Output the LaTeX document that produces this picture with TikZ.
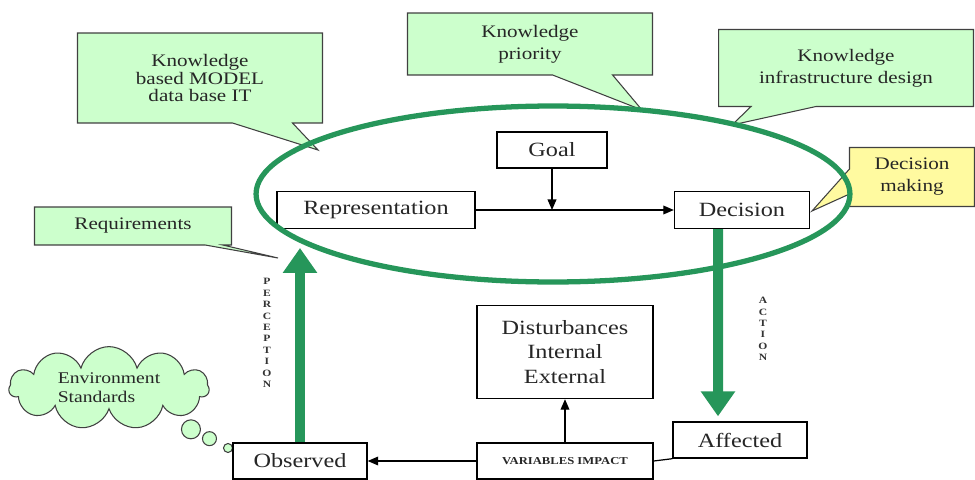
\documentclass[tikz,border=0pt]{standalone}
\usepackage{fontspec}
\setmainfont[FakeStretch=1.2]{Liberation Serif}
\usetikzlibrary{arrows.meta,shapes.callouts,shapes.symbols}
\definecolor{ringgreen}{RGB}{38,150,90}
\definecolor{notegreen}{RGB}{204,255,204}
\definecolor{noteyellow}{RGB}{255,250,160}

\begin{document}
\begin{tikzpicture}[x=0.02cm,y=-0.02cm,
 box/.style={draw=black,line width=0.8pt,fill=white,inner sep=0pt,text=black!85,font=\fontsize{11.5}{14}\selectfont},
 note/.style={rectangle callout,draw=black!75,line width=0.6pt,fill=notegreen,inner sep=0pt,align=center,text=black!85,font=\fontsize{10}{12.5}\selectfont},
 flow/.style={line width=0.7pt,-{Triangle[length=6pt,width=5pt]}},
 fat/.style={ringgreen,line width=0.2cm,-{Triangle[length=0.5cm,width=0.66cm]}},
 spell/.style={align=center,inner sep=0pt,text=black!80,font=\fontsize{5.5}{6.5}\selectfont\bfseries}]
 \useasboundingbox (0,0) rectangle (975,480);
 \node[note,minimum width=4.9cm,minimum height=1.8cm,callout absolute pointer={(318,150)},callout pointer width=1.2cm,font=\fontsize{10}{10}\selectfont] (model) at (200,78) {Knowledge\\based MODEL\\data base IT};
 \node[note,minimum width=4.9cm,minimum height=1.24cm,callout absolute pointer={(642,110)},callout pointer width=1.2cm] (priority) at (530,44) {Knowledge\\priority};
 \node[note,minimum width=5.1cm,minimum height=1.54cm,callout absolute pointer={(732,125)},callout pointer width=1.3cm] (infra) at (846,68) {Knowledge\\infrastructure design};
 \node[note,fill=noteyellow,minimum width=2.5cm,minimum height=1.18cm,callout absolute pointer={(812,211)},callout pointer width=0.5cm] (making) at (912,177) {Decision\\making};
 \node[note,minimum width=3.94cm,minimum height=0.76cm,callout absolute pointer={(278,258)},callout pointer width=0.35cm] (req) at (133,226) {Requirements};
 \node[cloud callout,draw=black!75,line width=0.6pt,fill=notegreen,cloud puffs=11,aspect=2.7,minimum width=4cm,minimum height=1.5cm,
  callout absolute pointer={(228,448)},callout pointer segments=3,callout pointer start size=0.9cm and 0.48cm,callout pointer end size=0.28cm and 0.18cm,
  align=left,inner sep=0pt,text=black!85,font=\fontsize{9.3}{11}\selectfont] (env) at (109,388) {Environment\\Standards};
 \node[box,minimum width=3.96cm,minimum height=0.74cm] (rep) at (376,210) {Representation};
 \node[box,minimum width=2.2cm,minimum height=0.72cm] (goal) at (552,150) {Goal};
 \node[box,minimum width=2.7cm,minimum height=0.74cm] (dec) at (742,210) {Decision};
 \node[box,minimum width=3.52cm,minimum height=1.86cm,align=center] (dist) at (565,352) {Disturbances\\Internal\\External};
 \node[box,minimum width=3.52cm,minimum height=0.72cm,font=\fontsize{6}{7}\selectfont\bfseries] (vi) at (565,461) {VARIABLES IMPACT};
 \node[box,minimum width=2.68cm,minimum height=0.72cm] (obs) at (300,461) {Observed};
 \node[box,minimum width=2.68cm,minimum height=0.72cm] (aff) at (740,440) {Affected};
 \node[spell] (perc) at (267,333) {P\\E\\R\\C\\E\\P\\T\\I\\O\\N};
 \node[spell] (act) at (763,329) {A\\C\\T\\I\\O\\N};
 \coordinate (seen) at (300,248);
 \draw[flow] (rep) -- (dec);
 \draw[flow] (goal) -- (goal |- rep.east);
 \draw[flow] (vi) -- (dist);
 \draw[flow] (vi) -- (obs);
 \draw[line width=0.7pt] (vi.east) -- (aff.south west);
 \draw[ringgreen,line width=3pt] (553,194) ellipse [x radius=5.94cm,y radius=1.76cm];
 \draw[fat] (obs) -- (seen);
 \draw[fat] ([xshift=-0.48cm]dec.south) -- ([xshift=-0.44cm,yshift=0.1cm]aff.north);
\end{tikzpicture}
\end{document}
